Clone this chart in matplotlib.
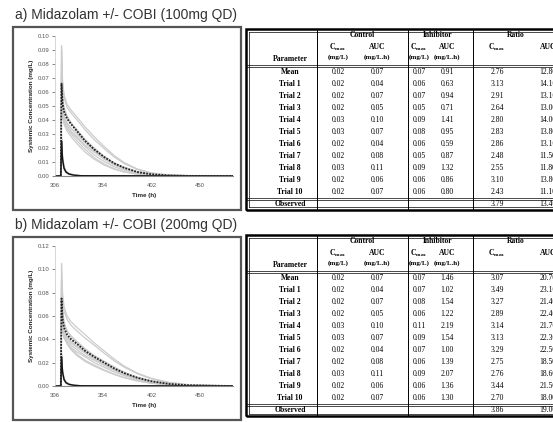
import matplotlib
matplotlib.use('Agg')
import matplotlib.pyplot as plt
from matplotlib.patches import Rectangle
from matplotlib.lines import Line2D

W, H = 553, 422

# sampling times (h) for the simulated profiles
t_inh = [306, 311.8, 312.5, 313.5, 315, 318, 322, 328, 336, 345, 355, 365, 375, 388, 402, 420, 440, 483]
t_ctl = [306, 311.8, 312.5, 313.5, 315, 317, 320, 325, 332, 483]

# control (midazolam alone), same in both panels
ctl_mean = [0, 0, 0.025, 0.012, 0.0055, 0.0028, 0.0014, 0.0006, 0.0002, 0]
ctl_trials = [
    [0, 0, 0.030, 0.015, 0.007, 0.0035, 0.0018, 0.0008, 0.0003, 0],
    [0, 0, 0.021, 0.010, 0.0045, 0.0022, 0.0010, 0.0004, 0.0001, 0],
    [0, 0, 0.027, 0.013, 0.006, 0.0030, 0.0015, 0.0006, 0.0002, 0],
]

# with COBI 100mg QD
inh_mean_a = [0, 0, 0.066, 0.052, 0.046, 0.041, 0.037, 0.032, 0.025, 0.019, 0.0135, 0.009, 0.0058, 0.0028, 0.0012, 0.0004, 0.0001, 0]
inh_trials_a = [
    [0, 0, 0.063, 0.046, 0.039, 0.034, 0.030, 0.025, 0.019, 0.013, 0.0085, 0.0052, 0.0030, 0.0014, 0.0005, 0.0001, 0, 0],
    [0, 0, 0.072, 0.055, 0.047, 0.042, 0.038, 0.033, 0.026, 0.019, 0.0137, 0.0092, 0.0060, 0.0029, 0.0012, 0.0004, 0.0001, 0],
    [0, 0, 0.054, 0.043, 0.038, 0.034, 0.031, 0.027, 0.021, 0.015, 0.0102, 0.0066, 0.0041, 0.0020, 0.0008, 0.0002, 0, 0],
    [0, 0, 0.093, 0.068, 0.058, 0.051, 0.047, 0.042, 0.035, 0.028, 0.0210, 0.0145, 0.0095, 0.0050, 0.0022, 0.0007, 0.0002, 0],
    [0, 0, 0.080, 0.058, 0.049, 0.043, 0.038, 0.032, 0.026, 0.020, 0.0140, 0.0093, 0.0060, 0.0030, 0.0013, 0.0004, 0.0001, 0],
    [0, 0, 0.060, 0.044, 0.037, 0.032, 0.028, 0.023, 0.017, 0.012, 0.0078, 0.0048, 0.0028, 0.0013, 0.0005, 0.0001, 0, 0],
    [0, 0, 0.052, 0.045, 0.041, 0.037, 0.034, 0.030, 0.024, 0.018, 0.0128, 0.0086, 0.0056, 0.0028, 0.0012, 0.0004, 0.0001, 0],
    [0, 0, 0.090, 0.066, 0.056, 0.049, 0.045, 0.040, 0.033, 0.026, 0.0195, 0.0135, 0.0088, 0.0046, 0.0020, 0.0006, 0.0002, 0],
    [0, 0, 0.062, 0.050, 0.043, 0.038, 0.034, 0.030, 0.024, 0.018, 0.0127, 0.0085, 0.0055, 0.0027, 0.0011, 0.0003, 0.0001, 0],
    [0, 0, 0.060, 0.047, 0.041, 0.036, 0.032, 0.028, 0.022, 0.017, 0.0118, 0.0078, 0.0050, 0.0025, 0.0010, 0.0003, 0.0001, 0],
]

# with COBI 200mg QD
inh_mean_b = [0, 0, 0.075, 0.058, 0.050, 0.044, 0.040, 0.036, 0.030, 0.025, 0.020, 0.015, 0.011, 0.007, 0.004, 0.0017, 0.0006, 0]
inh_trials_b = [
    [0, 0, 0.070, 0.052, 0.043, 0.037, 0.032, 0.027, 0.022, 0.018, 0.0138, 0.0102, 0.0073, 0.0045, 0.0024, 0.0010, 0.0003, 0],
    [0, 0, 0.080, 0.062, 0.053, 0.047, 0.043, 0.038, 0.032, 0.026, 0.0210, 0.0160, 0.0117, 0.0075, 0.0043, 0.0018, 0.0006, 0],
    [0, 0, 0.058, 0.047, 0.041, 0.037, 0.033, 0.029, 0.025, 0.020, 0.0160, 0.0120, 0.0088, 0.0055, 0.0030, 0.0012, 0.0004, 0],
    [0, 0, 0.105, 0.080, 0.068, 0.060, 0.055, 0.050, 0.044, 0.037, 0.0300, 0.0230, 0.0170, 0.0110, 0.0065, 0.0030, 0.0010, 0],
    [0, 0, 0.090, 0.066, 0.055, 0.047, 0.042, 0.037, 0.031, 0.026, 0.0210, 0.0160, 0.0115, 0.0074, 0.0042, 0.0018, 0.0006, 0],
    [0, 0, 0.068, 0.050, 0.042, 0.036, 0.031, 0.026, 0.021, 0.017, 0.0132, 0.0098, 0.0070, 0.0043, 0.0023, 0.0009, 0.0003, 0],
    [0, 0, 0.062, 0.052, 0.046, 0.042, 0.038, 0.034, 0.029, 0.024, 0.0190, 0.0145, 0.0105, 0.0066, 0.0037, 0.0015, 0.0005, 0],
    [0, 0, 0.092, 0.074, 0.064, 0.057, 0.052, 0.047, 0.041, 0.035, 0.0280, 0.0215, 0.0160, 0.0105, 0.0060, 0.0028, 0.0009, 0],
    [0, 0, 0.065, 0.053, 0.046, 0.041, 0.037, 0.033, 0.028, 0.023, 0.0185, 0.0140, 0.0100, 0.0064, 0.0036, 0.0015, 0.0005, 0],
    [0, 0, 0.062, 0.050, 0.044, 0.039, 0.035, 0.031, 0.026, 0.022, 0.0175, 0.0133, 0.0096, 0.0060, 0.0033, 0.0014, 0.0004, 0],
]

# table values
params = ['Mean'] + ['Trial %d' % i for i in range(1, 11)]
ctl_cmax = [0.02, 0.02, 0.02, 0.02, 0.03, 0.03, 0.02, 0.02, 0.03, 0.02, 0.02]
ctl_auc = [0.07, 0.04, 0.07, 0.05, 0.10, 0.07, 0.04, 0.08, 0.11, 0.06, 0.07]

inh_cmax_a = [0.07, 0.06, 0.07, 0.05, 0.09, 0.08, 0.06, 0.05, 0.09, 0.06, 0.06]
inh_auc_a = [0.91, 0.63, 0.94, 0.71, 1.41, 0.95, 0.59, 0.87, 1.32, 0.86, 0.80]
ratio_cmax_a = [2.76, 3.13, 2.91, 2.64, 2.80, 2.83, 2.86, 2.48, 2.55, 3.10, 2.43]
ratio_auc_a = [12.8, 14.1, 13.1, 13.0, 14.0, 13.8, 13.1, 11.5, 11.8, 13.8, 11.1]
obs_a = [3.79, 13.4]

inh_cmax_b = [0.07, 0.07, 0.08, 0.06, 0.11, 0.09, 0.07, 0.06, 0.09, 0.06, 0.06]
inh_auc_b = [1.46, 1.02, 1.54, 1.22, 2.19, 1.54, 1.00, 1.39, 2.07, 1.36, 1.30]
ratio_cmax_b = [3.07, 3.49, 3.27, 2.89, 3.14, 3.13, 3.29, 2.75, 2.76, 3.44, 2.70]
ratio_auc_b = [20.7, 23.1, 21.4, 22.4, 21.7, 22.3, 22.5, 18.5, 18.6, 21.5, 18.0]
obs_b = [3.86, 19.0]

fig = plt.figure(figsize=(W / 100, H / 100), dpi=100)
fig.patch.set_facecolor('white')


def fx(x):
    return x / W


def fy(y):
    return 1 - y / H


def hline(x0, x1, y, lw=0.6, color='black'):
    fig.add_artist(Line2D([fx(x0), fx(x1)], [fy(y), fy(y)], lw=lw, color=color,
                          transform=fig.transFigure))


def vline(x, y0, y1, lw=0.6, color='black'):
    fig.add_artist(Line2D([fx(x), fx(x)], [fy(y0), fy(y1)], lw=lw, color=color,
                          transform=fig.transFigure))


def draw_chart(title, top, ymax, ystep, inh_mean, inh_trials):
    fig.text(fx(15), fy(top - 12), title, fontsize=10, family='Liberation Sans',
             color='#333333', va='center', ha='left')
    fig.add_artist(Rectangle((fx(13), fy(top + 183)), fx(241) - fx(13), (183) / H,
                             fill=False, ec='#555555', lw=1.6, transform=fig.transFigure))
    ax = fig.add_axes([fx(55), fy(top + 149), fx(233) - fx(55), 140 / H])
    for tr in ctl_trials:
        ax.plot(t_ctl, tr, color='#b5b5b5', lw=0.8)
    for tr in inh_trials:
        ax.plot(t_inh, tr, color='#cccccc', lw=0.9)
    ax.plot(t_ctl, ctl_mean, color='#111111', lw=1.0)
    ax.plot(t_inh, inh_mean, color='#222222', lw=1.3, ls=(0, (1, 0.7)))
    ax.set_xlim(306, 483)
    ax.set_ylim(0, ymax)
    ax.set_xticks([306, 354, 402, 450])
    n = int(round(ymax / ystep))
    ax.set_yticks([i * ystep for i in range(n + 1)])
    ax.set_yticklabels(['%.2f' % (i * ystep) for i in range(n + 1)])
    for s in ['top', 'right']:
        ax.spines[s].set_visible(False)
    ax.spines['left'].set_color('#d0d0d0')
    ax.spines['bottom'].set_color('#888888')
    ax.spines['left'].set_linewidth(0.6)
    ax.spines['bottom'].set_linewidth(0.8)
    ax.tick_params(axis='both', labelsize=4.3, colors='#555555', length=2, width=0.5, pad=2)
    ax.tick_params(axis='x', length=0, pad=5)
    for lab in ax.get_xticklabels() + ax.get_yticklabels():
        lab.set_family('Liberation Sans')
    ax.set_xlabel('Time (h)', fontsize=4.5, fontweight='bold', family='Liberation Sans',
                  color='#222222', labelpad=4)
    ax.set_ylabel('Systemic Concentration (mg/L)', fontsize=4.5, fontweight='bold',
                  family='Liberation Sans', color='#222222', labelpad=3)
    ax.patch.set_alpha(0)


def draw_table(top, inh_cmax, inh_auc, ratio_cmax, ratio_auc, obs):
    serif = 'Liberation Serif'
    fs = 5.5
    left, right = 246, 560
    bottom = top + 181
    # outer border (double)
    fig.add_artist(Rectangle((fx(left), fy(bottom)), fx(right) - fx(left), (bottom - top) / H,
                             fill=False, ec='black', lw=1.8, transform=fig.transFigure))
    vline(left + 2.5, top + 2.5, bottom - 2.5, lw=0.5)
    hline(left + 2.5, right, top + 2.5, lw=0.5)
    hline(left + 2.5, right, bottom - 2.5, lw=0.5)
    for x in [317, 408, 473]:
        vline(x, top, bottom, lw=0.7)
    hline(left, right, top + 36, lw=0.5)
    hline(left, right, top + 37.5, lw=0.5)
    hline(left, right, top + 168.5, lw=0.5)
    hline(left, right, top + 170.5, lw=0.5)

    cols = [338, 377, 419, 447, 497, 548]
    kw = dict(family=serif, fontsize=fs, ha='center', va='center')
    bkw = dict(kw, fontweight='bold')
    hkw = dict(bkw, fontsize=5.0)
    fig.text(fx(362), fy(top + 6), 'Control', **bkw)
    fig.text(fx(438), fy(top + 6), 'Inhibitor', **bkw)
    fig.text(fx(516), fy(top + 6), 'Ratio', **bkw)
    cmax = r'C$_{\mathregular{max}}$'
    for c, lab, unit in zip(cols, [cmax, 'AUC', cmax, 'AUC', cmax, 'AUC'],
                            ['(mg/L)', '(mg/L.h)', '(mg/L)', '(mg/L.h)', '', '']):
        fig.text(fx(c), fy(top + 18), lab, **bkw)
        if unit:
            fig.text(fx(c), fy(top + 28), unit, **hkw)
    fig.text(fx(290), fy(top + 30), 'Parameter', **bkw)

    for i, p in enumerate(params):
        y = fy(top + 43 + 12 * i)
        fig.text(fx(290), y, p, **bkw)
        row = [ctl_cmax[i], ctl_auc[i], inh_cmax[i], inh_auc[i], ratio_cmax[i], ratio_auc[i]]
        for c, v in zip(cols, row):
            fig.text(fx(c), y, '%.2f' % v, **kw)
    y = fy(top + 175)
    fig.text(fx(290), y, 'Observed', **bkw)
    fig.text(fx(cols[4]), y, '%.2f' % obs[0], **kw)
    fig.text(fx(cols[5]), y, '%.2f' % obs[1], **kw)


draw_chart('a) Midazolam +/- COBI (100mg QD)', 27, 0.10, 0.01, inh_mean_a, inh_trials_a)
draw_chart('b) Midazolam +/- COBI (200mg QD)', 237, 0.12, 0.02, inh_mean_b, inh_trials_b)
draw_table(29, inh_cmax_a, inh_auc_a, ratio_cmax_a, ratio_auc_a, obs_a)
draw_table(235, inh_cmax_b, inh_auc_b, ratio_cmax_b, ratio_auc_b, obs_b)

fig.savefig('out.png', dpi=100)
